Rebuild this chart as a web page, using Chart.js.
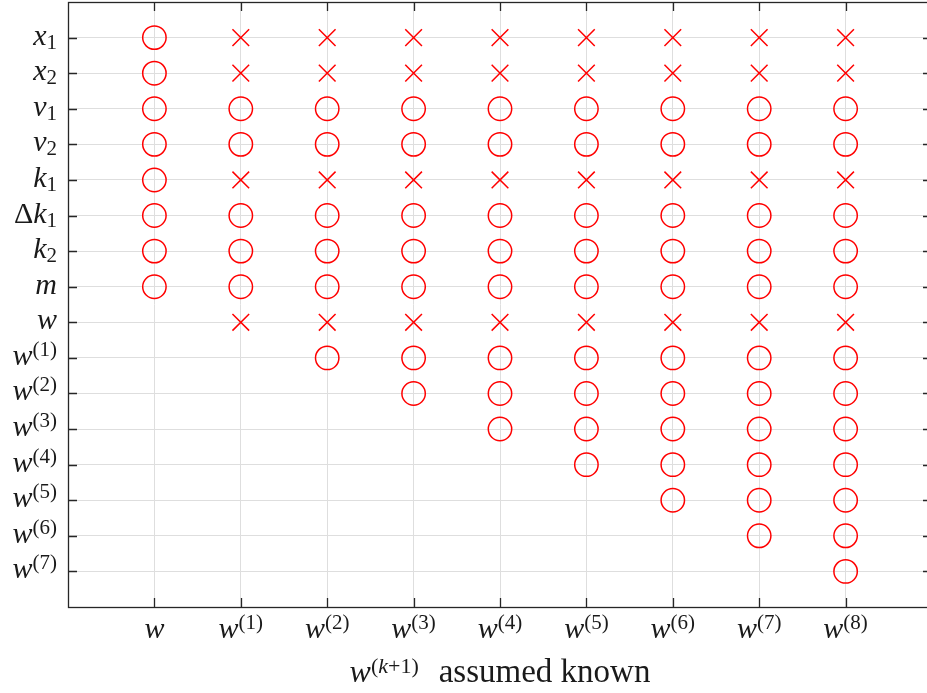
<!DOCTYPE html>
<html>
<head>
<meta charset="utf-8">
<script src="https://cdn.jsdelivr.net/npm/chart.js@4/dist/chart.umd.min.js"></script>
<style>
  html, body { margin: 0; padding: 0; background: #fff; overflow: hidden; }
  #wrap { width: 935px; height: 693px; }
</style>
</head>
<body>
<div id="wrap"><canvas id="chart" width="935" height="693"></canvas></div>
<script>
const xLabels = ['w', 'w^(1)', 'w^(2)', 'w^(3)', 'w^(4)', 'w^(5)', 'w^(6)', 'w^(7)', 'w^(8)'];
const yLabels = ['x_1', 'x_2', 'v_1', 'v_2', 'k_1', 'Δk_1', 'k_2', 'm', 'w',
  'w^(1)', 'w^(2)', 'w^(3)', 'w^(4)', 'w^(5)', 'w^(6)', 'w^(7)'];
const xTitle = 'w^(k+1)';
const xTitleRest = 'assumed known';

// row indices (into yLabels) marked per column (xLabels)
const circleRows = [
  [0, 1, 2, 3, 4, 5, 6, 7],
  [2, 3, 5, 6, 7],
  [2, 3, 5, 6, 7, 9],
  [2, 3, 5, 6, 7, 9, 10],
  [2, 3, 5, 6, 7, 9, 10, 11],
  [2, 3, 5, 6, 7, 9, 10, 11, 12],
  [2, 3, 5, 6, 7, 9, 10, 11, 12, 13],
  [2, 3, 5, 6, 7, 9, 10, 11, 12, 13, 14],
  [2, 3, 5, 6, 7, 9, 10, 11, 12, 13, 14, 15],
];
const crossRows = [
  [],
  [0, 1, 4, 8],
  [0, 1, 4, 8],
  [0, 1, 4, 8],
  [0, 1, 4, 8],
  [0, 1, 4, 8],
  [0, 1, 4, 8],
  [0, 1, 4, 8],
  [0, 1, 4, 8],
];

const RED = '#ff0000';
const AXIS = '#262626';
const GRID = '#dedede';
const FONT = '"Liberation Serif", "DejaVu Serif", serif';

function toPoints(rows) {
  const pts = [];
  rows.forEach((list, col) => list.forEach(r => pts.push({ x: col, y: r })));
  return pts;
}

// split a label like 'w^(1)' or 'Δk_1' into drawable runs
function runs(text, size, dy) {
  const out = [];
  for (const ch of text) {
    const it = /[a-zA-Z]/.test(ch);
    const last = out[out.length - 1];
    if (last && last.italic === it) last.text += ch;
    else out.push({ text: ch, italic: it, size, dy });
  }
  return out;
}
function parse(label, base, script) {
  const m = label.match(/^([^_^]*)(?:([_^])(.*))?$/);
  let segs = runs(m[1], base, 0);
  if (m[2] === '_') segs = segs.concat(runs(m[3], script, 4));
  if (m[2] === '^') segs = segs.concat(runs(m[3], script, -9));
  return segs;
}
function fontOf(s) { return (s.italic ? 'italic ' : '') + s.size + 'px ' + FONT; }
function measure(ctx, segs) {
  let w = 0;
  segs.forEach(s => { ctx.font = fontOf(s); w += ctx.measureText(s.text).width + (s.gap || 0); });
  return w;
}
function drawSegs(ctx, segs, x, y) {
  segs.forEach(s => {
    x += s.gap || 0;
    ctx.font = fontOf(s);
    ctx.fillText(s.text, x, y + s.dy);
    x += ctx.measureText(s.text).width;
  });
  return x;
}

const axesPlugin = {
  id: 'matlabAxes',
  afterDraw(chart) {
    const ctx = chart.ctx;
    const a = chart.chartArea;
    const xs = chart.scales.x, ys = chart.scales.y;
    const tl = 9;
    ctx.save();
    ctx.strokeStyle = AXIS;
    ctx.lineWidth = 1.3;
    ctx.strokeRect(a.left + 0.5, a.top + 0.5, a.right - a.left, a.bottom - a.top);
    ctx.beginPath();
    xLabels.forEach((_, i) => {
      const px = Math.round(xs.getPixelForValue(i)) + 0.5;
      ctx.moveTo(px, a.bottom); ctx.lineTo(px, a.bottom - tl);
      ctx.moveTo(px, a.top); ctx.lineTo(px, a.top + tl);
    });
    yLabels.forEach((_, i) => {
      const py = Math.round(ys.getPixelForValue(i)) + 0.5;
      ctx.moveTo(a.left, py); ctx.lineTo(a.left + tl, py);
      ctx.moveTo(a.right, py); ctx.lineTo(a.right - tl, py);
    });
    ctx.stroke();

    ctx.fillStyle = '#1a1a1a';
    ctx.textBaseline = 'alphabetic';
    ctx.textAlign = 'left';
    yLabels.forEach((lab, i) => {
      const segs = parse(lab, 30, 21);
      const w = measure(ctx, segs);
      drawSegs(ctx, segs, a.left - 11 - w, ys.getPixelForValue(i) + 7);
    });
    xLabels.forEach((lab, i) => {
      const segs = parse(lab, 30, 21);
      const w = measure(ctx, segs);
      drawSegs(ctx, segs, xs.getPixelForValue(i) - w / 2, 638);
    });

    const tSegs = parse(xTitle, 32, 22);
    const rest = { text: xTitleRest, italic: false, size: 33, dy: 0, gap: 20 };
    const all = tSegs.concat([rest]);
    const tw = measure(ctx, all);
    drawSegs(ctx, all, (a.left + a.right) / 2 - tw / 2, 682);
    ctx.restore();
  }
};

new Chart(document.getElementById('chart'), {
  type: 'scatter',
  data: {
    datasets: [
      {
        label: 'circle',
        data: toPoints(circleRows),
        pointStyle: 'circle',
        pointRadius: 11.7,
        pointHoverRadius: 11.7,
        borderColor: RED,
        backgroundColor: 'rgba(0,0,0,0)',
        pointBorderWidth: 1.5,
      },
      {
        label: 'cross',
        data: toPoints(crossRows),
        pointStyle: 'crossRot',
        pointRadius: 11.8,
        pointHoverRadius: 11.8,
        borderColor: RED,
        backgroundColor: RED,
        pointBorderWidth: 1.5,
      },
    ]
  },
  options: {
    responsive: false,
    animation: false,
    devicePixelRatio: 1,
    layout: { autoPadding: false, padding: { left: 68, top: 2, right: 3, bottom: 86 } },
    plugins: { legend: { display: false }, tooltip: { enabled: false } },
    scales: {
      x: {
        type: 'linear', min: -1, max: 9,
        ticks: { display: false, stepSize: 1 },
        border: { display: false },
        grid: {
          drawTicks: false, lineWidth: 1,
          color: c => (c.tick && c.tick.value >= 0 && c.tick.value <= 8) ? GRID : 'rgba(0,0,0,0)'
        },
        afterFit: s => { s.height = 0; }
      },
      y: {
        type: 'linear', min: -1, max: 16, reverse: true,
        ticks: { display: false, stepSize: 1 },
        border: { display: false },
        grid: {
          drawTicks: false, lineWidth: 1,
          color: c => (c.tick && c.tick.value >= 0 && c.tick.value <= 15) ? GRID : 'rgba(0,0,0,0)'
        },
        afterFit: s => { s.width = 0; }
      }
    }
  },
  plugins: [axesPlugin]
});
</script>
</body>
</html>
